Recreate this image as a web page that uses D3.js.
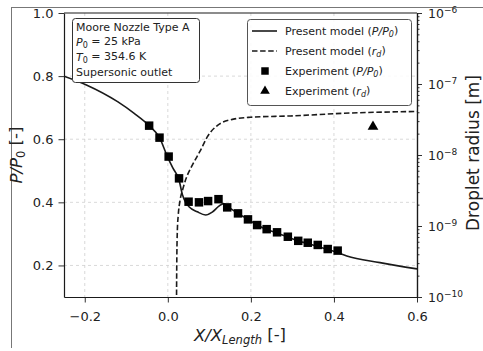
<!DOCTYPE html>
<html>
<head>
<meta charset="utf-8">
<script src="https://cdn.jsdelivr.net/npm/d3@7"></script>
<style>
  html, body { margin: 0; padding: 0; background: #fff; }
  svg { display: block; font-family: "DejaVu Sans", sans-serif; }
</style>
</head>
<body>
<svg id="chart" width="483" height="351"></svg>
<script>
// Present model: pressure ratio along the nozzle
const modelX = [-0.25, -0.196, -0.121, -0.081, -0.045, -0.020, -0.001, 0.012, 0.027, 0.035, 0.043, 0.051, 0.071, 0.091, 0.107, 0.123, 0.134, 0.146, 0.169, 0.193, 0.215, 0.238, 0.263, 0.289, 0.314, 0.337, 0.361, 0.385, 0.409, 0.431, 0.511, 0.600];
const modelP = [0.800, 0.772, 0.719, 0.682, 0.643, 0.605, 0.545, 0.509, 0.471, 0.425, 0.400, 0.386, 0.370, 0.360, 0.369, 0.388, 0.396, 0.385, 0.365, 0.346, 0.328, 0.314, 0.303, 0.290, 0.277, 0.270, 0.260, 0.251, 0.241, 0.230, 0.209, 0.189];

// Present model: droplet radius [m]
const dropX = [0.0205, 0.021, 0.0215, 0.023, 0.025, 0.0295, 0.036, 0.043, 0.059, 0.079, 0.095, 0.119, 0.158, 0.199, 0.295, 0.439, 0.600];
const dropR = [1e-11, 1.0e-10, 2.8e-10, 8.9e-10, 1.4e-9, 2.3e-9, 3.3e-9, 4.5e-9, 7.2e-9, 1.17e-8, 1.8e-8, 2.6e-8, 3.2e-8, 3.4e-8, 3.55e-8, 3.9e-8, 4.1e-8];

// Experiment: pressure ratio
const expX = [-0.045, -0.020, 0.002, 0.027, 0.050, 0.075, 0.097, 0.122, 0.143, 0.169, 0.193, 0.215, 0.238, 0.263, 0.289, 0.314, 0.337, 0.361, 0.385, 0.409];
const expP = [0.643, 0.605, 0.545, 0.476, 0.402, 0.400, 0.404, 0.410, 0.384, 0.365, 0.346, 0.328, 0.315, 0.305, 0.291, 0.278, 0.272, 0.265, 0.252, 0.247];

// Experiment: droplet radius
const expRX = [0.494];
const expR = [2.5e-8];

// Axis ticks
const xTicks = [-0.2, 0.0, 0.2, 0.4, 0.6];
const yTicks = [0.2, 0.4, 0.6, 0.8, 1.0];
const rTicks = [1e-10, 1e-9, 1e-8, 1e-7, 1e-6];
const rTickExp = ["−10", "−9", "−8", "−7", "−6"];

const legendLabels = [
  ["Present model (", "P/P", "0", ")"],
  ["Present model (", "r", "d", ")"],
  ["Experiment (", "P/P", "0", ")"],
  ["Experiment (", "r", "d", ")"]
];
const infoLines = [
  [["Moore Nozzle Type A", null]],
  [["P", "it"], ["0", "sub"], [" = 25 kPa", null]],
  [["T", "it"], ["0", "sub"], [" = 354.6 K", null]],
  [["Supersonic outlet", null]]
];

const svg = d3.select("#chart");
const L = 64, R = 417, T = 13, B = 297;
const ink = "#1a1a1a";

const x = d3.scaleLinear().domain([-0.25, 0.6]).range([L, R]);
const y = d3.scaleLinear().domain([0.1, 1.0]).range([B, T]);
const yr = d3.scaleLog().domain([1e-10, 1e-6]).range([B, T]);

// outer frame lines
svg.append("line").attr("x1", 12).attr("x2", 483).attr("y1", 7.5).attr("y2", 7.5)
  .attr("stroke", "#777").attr("stroke-width", 1);
svg.append("line").attr("x1", 11.5).attr("x2", 11.5).attr("y1", 7).attr("y2", 348)
  .attr("stroke", "#777").attr("stroke-width", 1);

svg.append("defs").append("clipPath").attr("id", "plotclip")
  .append("rect").attr("x", L).attr("y", T).attr("width", R - L).attr("height", B - T);

// grid
const grid = svg.append("g").attr("stroke", "#cfcfcf").attr("stroke-width", 0.8).attr("stroke-dasharray", "3,3");
xTicks.filter(v => v > -0.25 && v < 0.6).forEach(v => {
  grid.append("line").attr("x1", x(v)).attr("x2", x(v)).attr("y1", T).attr("y2", B);
});
yTicks.filter(v => v < 1.0).forEach(v => {
  grid.append("line").attr("x1", L).attr("x2", R).attr("y1", y(v)).attr("y2", y(v));
});

// axes
function styleAxis(g) {
  g.selectAll(".domain").attr("stroke", ink).attr("stroke-width", 1.2);
  g.selectAll(".tick line").attr("stroke", ink).attr("stroke-width", 0.9);
  g.selectAll(".tick text").attr("fill", "#222").attr("font-size", 13).attr("font-family", "DejaVu Sans");
}
const fmt = d => d3.format(".1f")(d).replace("-", "−");
svg.append("g").attr("transform", `translate(0,${B})`)
  .call(d3.axisBottom(x).tickValues(xTicks).tickFormat(fmt).tickSize(5.5).tickPadding(9).tickSizeOuter(0))
  .call(styleAxis);
svg.append("g").attr("transform", `translate(${L},0)`)
  .call(d3.axisLeft(y).tickValues(yTicks).tickFormat(d3.format(".1f")).tickSize(5.5).tickPadding(5).tickSizeOuter(0))
  .call(styleAxis);
const minor = [];
for (let e = -10; e < -6; e++) for (let m = 2; m <= 9; m++) minor.push(m * Math.pow(10, e));
svg.append("g").attr("transform", `translate(${R},0)`)
  .call(d3.axisRight(yr).tickValues(minor).tickFormat("").tickSize(2.5).tickSizeOuter(0))
  .call(styleAxis);
const rMajor = svg.append("g").attr("transform", `translate(${R},0)`)
  .call(d3.axisRight(yr).tickValues(rTicks).tickFormat("").tickSize(5).tickSizeOuter(0))
  .call(styleAxis);
rMajor.selectAll(".tick").each(function(d, i) {
  const t = d3.select(this).append("text").attr("x", 11).attr("dy", "0.32em")
    .attr("fill", "#222").attr("font-size", 12.5).attr("font-family", "DejaVu Sans").attr("text-anchor", "start");
  t.append("tspan").text("10");
  t.append("tspan").attr("dy", "-0.5em").attr("font-size", 9).text(rTickExp[i]);
});
// top spine
svg.append("line").attr("x1", L).attr("x2", R).attr("y1", T).attr("y2", T)
  .attr("stroke", ink).attr("stroke-width", 1.2);

// model lines
const plot = svg.append("g").attr("clip-path", "url(#plotclip)");
const lineP = d3.line().x((d, i) => x(modelX[i])).y((d, i) => y(modelP[i])).curve(d3.curveMonotoneX);
plot.append("path").attr("d", lineP(modelX)).attr("fill", "none").attr("stroke", ink).attr("stroke-width", 1.6);
const lineR = d3.line().x((d, i) => x(dropX[i])).y((d, i) => yr(dropR[i])).curve(d3.curveMonotoneX);
plot.append("path").attr("d", lineR(dropX)).attr("fill", "none").attr("stroke", ink)
  .attr("stroke-width", 1.6).attr("stroke-dasharray", "5.5,2.6");

// experiments
const sq = d3.symbol().type(d3.symbolSquare).size(72);
const tri = d3.symbol().type(d3.symbolTriangle).size(50);
svg.append("g").selectAll("path").data(expX).join("path")
  .attr("d", sq).attr("transform", (d, i) => `translate(${x(d)},${y(expP[i])})`).attr("fill", "#000");
svg.append("g").selectAll("path").data(expRX).join("path")
  .attr("d", tri).attr("transform", (d, i) => `translate(${x(d)},${yr(expR[i])})`).attr("fill", "#000");

// info box
const info = svg.append("g");
info.append("rect").attr("x", 72.5).attr("y", 18.5).attr("width", 127).attr("height", 64).attr("rx", 3)
  .attr("fill", "#fff").attr("stroke", "#333").attr("stroke-width", 1);
infoLines.forEach((parts, i) => {
  const t = info.append("text").attr("x", 76).attr("y", 31 + i * 15).attr("font-size", 11).attr("fill", "#222");
  parts.forEach(([s, k]) => {
    const sp = t.append("tspan").text(s);
    if (k === "it") sp.attr("font-style", "italic");
    if (k === "sub") sp.attr("font-size", 8).attr("dy", "0.25em");
    if (k === null && parts.length > 1) sp.attr("dy", "-0.25em");
  });
});

// legend
const leg = svg.append("g");
leg.append("rect").attr("x", 247.5).attr("y", 19.5).attr("width", 164).attr("height", 86).attr("rx", 3)
  .attr("fill", "#fff").attr("fill-opacity", 0.85).attr("stroke", "#555").attr("stroke-width", 1);
legendLabels.forEach((parts, i) => {
  const cy = 31 + i * 20;
  if (i === 0) leg.append("line").attr("x1", 252).attr("x2", 277).attr("y1", cy).attr("y2", cy).attr("stroke", ink).attr("stroke-width", 1.6);
  if (i === 1) leg.append("line").attr("x1", 252).attr("x2", 277).attr("y1", cy).attr("y2", cy).attr("stroke", ink).attr("stroke-width", 1.6).attr("stroke-dasharray", "5.5,2.6");
  if (i === 2) leg.append("path").attr("d", d3.symbol().type(d3.symbolSquare).size(56)()).attr("transform", `translate(265,${cy})`).attr("fill", "#000");
  if (i === 3) leg.append("path").attr("d", d3.symbol().type(d3.symbolTriangle).size(40)()).attr("transform", `translate(265,${cy})`).attr("fill", "#000");
  const t = leg.append("text").attr("x", 285).attr("y", cy + 4).attr("font-size", 11).attr("fill", "#222");
  t.append("tspan").text(parts[0]);
  t.append("tspan").attr("font-style", "italic").text(parts[1]);
  t.append("tspan").attr("font-style", "italic").attr("font-size", 8).attr("dy", "0.25em").text(parts[2]);
  t.append("tspan").attr("dy", "-0.25em").text(parts[3]);
});

// axis labels
const xl = svg.append("text").attr("x", 240).attr("y", 341).attr("text-anchor", "middle").attr("font-size", 16.5).attr("fill", "#222");
xl.append("tspan").attr("font-style", "italic").text("X/X");
xl.append("tspan").attr("font-style", "italic").attr("font-size", 11.5).attr("dy", "0.3em").text("Length");
xl.append("tspan").attr("dy", "-0.3em").text(" [-]");

const yl = svg.append("text").attr("transform", "translate(22,155) rotate(-90)").attr("text-anchor", "middle").attr("font-size", 16.5).attr("fill", "#222");
yl.append("tspan").attr("font-style", "italic").text("P/P");
yl.append("tspan").attr("font-size", 11.5).attr("dy", "0.3em").text("0");
yl.append("tspan").attr("dy", "-0.3em").text(" [-]");

svg.append("text").attr("transform", "translate(479,153) rotate(-90)").attr("text-anchor", "middle")
  .attr("font-size", 17).attr("fill", "#222").text("Droplet radius [m]");
</script>
</body>
</html>
